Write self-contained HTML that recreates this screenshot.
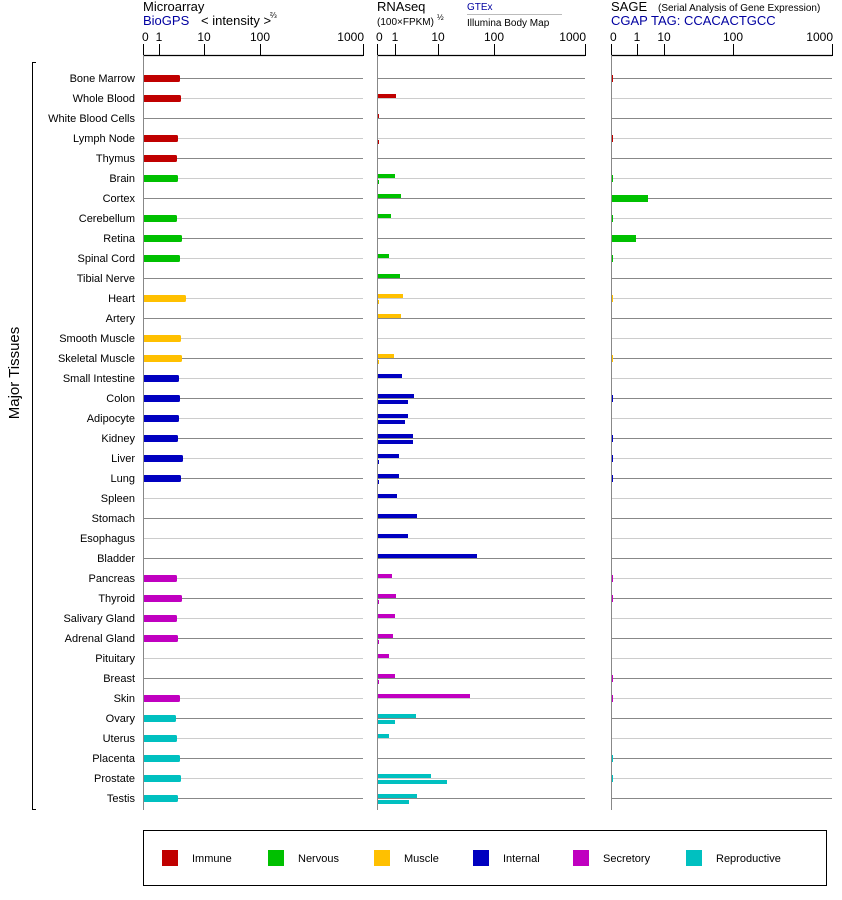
<!DOCTYPE html>
<html><head><meta charset="utf-8"><style>
body{margin:0;background:#fff;}
svg{display:block;font-family:"Liberation Sans",Arial,sans-serif;}
</style></head><body>
<svg id="s" width="842" height="900" xmlns="http://www.w3.org/2000/svg">
<text x="143" y="11" font-size="13">Microarray</text>
<text x="143" y="25" font-size="13" fill="#0000a0">BioGPS</text>
<text x="201" y="25" font-size="13">&lt; intensity &gt;</text>
<text x="270" y="18" font-size="8">⅔</text>
<text x="377" y="11" font-size="13">RNAseq</text>
<text x="377" y="25" font-size="10">(100×FPKM)</text>
<text x="437" y="20" font-size="8">½</text>
<text x="467" y="10" font-size="10" fill="#0000a0">GTEx</text>
<line x1="467" y1="14.5" x2="562" y2="14.5" stroke="#bbb"/>
<text x="467" y="26" font-size="10">Illumina Body Map</text>
<text x="611" y="11" font-size="13">SAGE</text>
<text x="658" y="11" font-size="10">(Serial Analysis of Gene Expression)</text>
<text x="611" y="25" font-size="13" fill="#0000a0">CGAP TAG: CCACACTGCC</text>
<text transform="translate(19,373) rotate(-90)" font-size="15" text-anchor="middle">Major Tissues</text>
<path d="M36,62.5 H32.5 V809.5 H36" fill="none" stroke="#000"/>
<rect x="143.5" y="830.5" width="683" height="55" fill="none" stroke="#000"/>
<g id="g"></g>
</svg>
<script>
var NS="http://www.w3.org/2000/svg",g=document.getElementById('g');
function el(t,a,txt){var e=document.createElementNS(NS,t);for(var k in a)e.setAttribute(k,a[k]);if(txt!=null)e.textContent=txt;g.appendChild(e);return e;}
var C={I:"#c00000",N:"#00c000",M:"#ffc000",T:"#0000c0",S:"#c000c0",R:"#00c0c0"};
var axes=[[143,363,[[0,143],[1,159],[10,204],[100,260],[1000,363]]],[377,585,[[0,377],[1,395],[10,438],[100,494],[1000,585]]],[611,832,[[0,611],[1,637],[10,664],[100,733],[1000,832]]]];
axes.forEach(function(a){
 el('line',{x1:a[0],y1:55.5,x2:a[1],y2:55.5,stroke:"#000","stroke-width":1.2});
 a[2].forEach(function(t){el('line',{x1:t[1]+.5,y1:44,x2:t[1]+.5,y2:56,stroke:"#000"});
  var x=t[1],anc="middle";if(t[0]==0){x=t[1]-1;anc="start";}if(t[0]==1000){x=t[1]+1;anc="end";}
  el('text',{x:x,y:41,"font-size":12,"text-anchor":anc},t[0]);});
});
var rows=[
["Bone Marrow","I",180,0,0,613],["Whole Blood","I",181,396,0,0],["White Blood Cells","I",0,379,0,0],["Lymph Node","I",178,0,379,613],["Thymus","I",177,0,0,0],
["Brain","N",178,395,379,613],["Cortex","N",0,401,0,648],["Cerebellum","N",177,391,0,613],["Retina","N",182,0,0,636],["Spinal Cord","N",180,389,0,613],["Tibial Nerve","N",0,400,0,0],
["Heart","M",186,403,379,613],["Artery","M",0,401,0,0],["Smooth Muscle","M",181,0,0,0],["Skeletal Muscle","M",182,394,379,613],
["Small Intestine","T",179,402,0,0],["Colon","T",180,414,408,613],["Adipocyte","T",179,408,405,0],["Kidney","T",178,413,413,613],["Liver","T",183,399,379,613],["Lung","T",181,399,379,613],["Spleen","T",0,397,0,0],["Stomach","T",0,417,0,0],["Esophagus","T",0,408,0,0],["Bladder","T",0,477,0,0],
["Pancreas","S",177,392,0,613],["Thyroid","S",182,396,379,613],["Salivary Gland","S",177,395,0,0],["Adrenal Gland","S",178,393,379,0],["Pituitary","S",0,389,0,0],["Breast","S",0,395,379,613],["Skin","S",180,470,0,613],
["Ovary","R",176,416,395,0],["Uterus","R",177,389,0,0],["Placenta","R",180,0,0,613],["Prostate","R",181,431,447,613],["Testis","R",178,417,409,0]];
rows.forEach(function(r,i){
 var y=78+i*20,lc=i%2?"#cccccc":"#888888",c=C[r[1]];
 el('text',{x:135,y:y+4,"font-size":11,"text-anchor":"end"},r[0]);
 [[143,363],[377,585],[611,832]].forEach(function(a){el('line',{x1:a[0],y1:y+.5,x2:a[1],y2:y+.5,stroke:lc});});
 if(r[2])el('rect',{x:143,y:y-3,width:r[2]-143,height:7,rx:1.5,fill:c});
 if(r[3])el('rect',{x:377,y:y-4,width:r[3]-377,height:4,fill:c});
 if(r[4])el('rect',{x:377,y:y+2,width:r[4]-377,height:4,fill:c});
 if(r[5])el('rect',{x:611,y:y-3,width:r[5]-611,height:7,fill:c});
});
[[143,55,810],[377,55,810],[611,55,810]].forEach(function(a){el('line',{x1:a[0]+.5,y1:a[1],x2:a[0]+.5,y2:a[2],stroke:"#888"});});
var L=[["I","Immune",162],["N","Nervous",268],["M","Muscle",374],["T","Internal",473],["S","Secretory",573],["R","Reproductive",686]];
L.forEach(function(l){el('rect',{x:l[2],y:850,width:16,height:16,fill:C[l[0]]});el('text',{x:l[2]+30,y:862,"font-size":11},l[1]);});
</script>
</body></html>
